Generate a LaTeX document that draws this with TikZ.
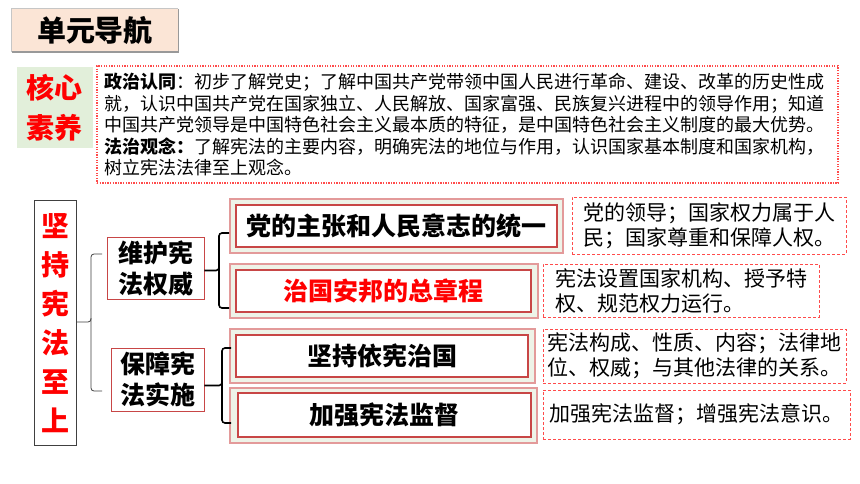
\documentclass[tikz,border=0pt]{standalone}
\usepackage{fontspec}
\setmainfont{Noto Sans CJK SC}
\usetikzlibrary{positioning}
\definecolor{titlefill}{HTML}{FBE5D6}
\definecolor{corefill}{HTML}{E2EFDA}
\definecolor{outerdraw}{HTML}{E39A9A}
\definecolor{outerfill}{HTML}{EEF3E8}
\definecolor{innerdraw}{HTML}{C84646}
\definecolor{dashred}{HTML}{FF4B4B}
\definecolor{txtred}{HTML}{FF0000}
\definecolor{darkgr}{HTML}{404040}
\tikzset{
  outerbox/.style={draw=outerdraw, fill=outerfill, line width=1.3pt, inner sep=0pt},
  innerbox/.style={draw=innerdraw, fill=white, line width=1.2pt, inner sep=0pt, font=\fontsize{25}{30}\selectfont\bfseries},
  dbox/.style={draw=dashred, line width=0.8pt, dash pattern=on 3pt off 2pt, inner sep=0pt, align=left, font=\fontsize{21}{25}\selectfont},
  catbox/.style={draw=innerdraw, fill=white, line width=0.9pt, inner sep=0pt, align=center, font=\fontsize{25}{31}\selectfont\bfseries},
  topline/.style={anchor=base west, inner sep=0pt, font=\fontsize{18}{21.5}\selectfont},
  thinbrace/.style={draw=darkgr, line width=0.8pt, rounded corners=3pt},
  thickbrace/.style={draw=black, line width=1.6pt, rounded corners=3pt}
}
\begin{document}
\begin{tikzpicture}[x=1pt,y=-1pt]
\useasboundingbox (0,0) rectangle (860,484);
\fill[white] (0,0) rectangle (860,484);

% title
\node[fill=titlefill, minimum width=166pt, minimum height=43pt, inner sep=0pt,
      font=\fontsize{29}{32}\selectfont\bfseries] (title) at (95,30.5) {单元导航};
\draw[line width=1.2pt, color=gray!45] (title.south west) -- (title.north west) -- (title.north east);
\draw[line width=1.4pt, color=gray!80] (title.north east) -- (title.south east) -- (title.south west);

% core literacy
\node[fill=corefill, minimum width=76pt, minimum height=81pt, inner sep=0pt, align=center,
      text=txtred, font=\fontsize{28}{40}\selectfont\bfseries] (core) at (55,107.5) {核心\\素养};
\node[draw=dashred, line width=1.3pt, dash pattern=on 1.3pt off 1.3pt, minimum width=741pt,
      minimum height=117pt, inner sep=0pt] (coretext) at (467.5,124.5) {};
\node[topline] (t1) at (104,89) {\textbf{政治认同}：初步了解党史；了解中国共产党带领中国人民进行革命、建设、改革的历史性成};
\node[topline] (t2) at (104,110.5) {就，认识中国共产党在国家独立、人民解放、国家富强、民族复兴进程中的领导作用；知道};
\node[topline] (t3) at (104,132) {中国共产党领导是中国特色社会主义最本质的特征，是中国特色社会主义制度的最大优势。};
\node[topline] (t4) at (104,153.5) {\textbf{法治观念：}了解宪法的主要内容，明确宪法的地位与作用，认识国家基本制度和国家机构，};
\node[topline] (t5) at (104,175) {树立宪法法律至上观念。};

% left vertical
\node[draw=darkgr, fill=white, line width=1pt, minimum width=42pt, minimum height=244pt, inner sep=0pt,
      align=center, text=txtred, font=\fontsize{28}{39}\selectfont\bfseries] (main) at (55,323)
      {坚\\持\\宪\\法\\至\\上};

% categories
\node[catbox, minimum width=97pt, minimum height=62pt] (cat1) at (155.5,268) {维护宪\\法权威};
\node[catbox, minimum width=93pt, minimum height=63pt] (cat2) at (157.5,379.5) {保障宪\\法实施};

% right double boxes
\node[outerbox, minimum width=333pt, minimum height=54pt] (o1) at (396.5,226) {};
\node[innerbox, minimum width=321pt, minimum height=42pt] (i1) at (396.5,226) {党的主张和人民意志的统一};
\node[outerbox, minimum width=308pt, minimum height=54pt] (o2) at (384,291) {};
\node[innerbox, minimum width=295pt, minimum height=42pt, text=txtred] (i2) at (383.5,291) {治国安邦的总章程};
\node[outerbox, minimum width=305pt, minimum height=54pt] (o3) at (382.5,356) {};
\node[innerbox, minimum width=292pt, minimum height=42pt] (i3) at (382,356) {坚持依宪治国};
\node[outerbox, minimum width=307pt, minimum height=55pt] (o4) at (383.5,415.5) {};
\node[innerbox, minimum width=293pt, minimum height=44pt] (i4) at (384.5,415) {加强宪法监督};

% dashed explanation boxes
\node[dbox, minimum width=274pt, minimum height=57pt] (d1) at (709,225.5) {党的领导；国家权力属于人\\民；国家尊重和保障人权。};
\node[dbox, minimum width=276pt, minimum height=53pt] (d2) at (681,290.5) {宪法设置国家机构、授予特\\权、规范权力运行。};
\node[dbox, minimum width=303pt, minimum height=54pt] (d3) at (694.5,356) {宪法构成、性质、内容；法律地\\位、权威；与其他法律的关系。};
\node[dbox, minimum width=307pt, minimum height=49pt] (d4) at (696.5,414.5) {加强宪法监督；增强宪法意识。};

% braces
\coordinate (b1t) at (102,254);
\coordinate (b1b) at (102,391);
\draw[thinbrace] (b1t) -- (91,254) -- (91,322) -- (main.east |- 0,322);
\draw[thinbrace] (91,318) -- (91,391) -- (b1b);

\coordinate (b2t) at (229,233);
\coordinate (b2b) at (229,308);
\draw[thickbrace] (b2t) -- (219,233) -- (219,270.5) -- (cat1.east |- 0,270.5);
\draw[thickbrace] (219,266) -- (219,308) -- (b2b);

\coordinate (b3t) at (231,348);
\coordinate (b3b) at (231,423);
\draw[thickbrace] (b3t) -- (222,348) -- (222,385.5) -- (cat2.east |- 0,385.5);
\draw[thickbrace] (222,381) -- (222,423) -- (b3b);
\end{tikzpicture}
\end{document}
